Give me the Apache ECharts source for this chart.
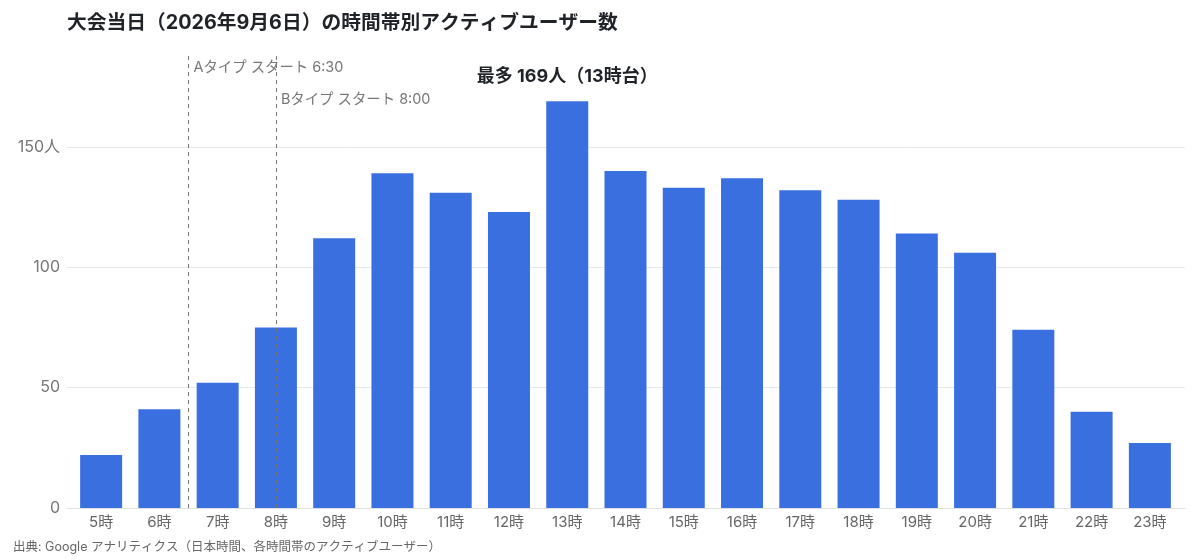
<!DOCTYPE html>
<html><head><meta charset="utf-8">
<script src="https://cdn.jsdelivr.net/npm/echarts@6/dist/echarts.min.js"></script>
<style>html,body{margin:0;padding:0;background:#fff}#c{width:1200px;height:560px}</style>
</head><body><div id="c"></div>
<script>
const categories = ['5時','6時','7時','8時','9時','10時','11時','12時','13時','14時','15時','16時','17時','18時','19時','20時','21時','22時','23時'];
const users = [22,41,52,75,112,139,131,123,169,140,133,137,132,128,114,106,74,40,27];
const yTicks = [0,50,100,150];
const startLines = [
  {hour: 6.5, text: 'Aタイプ スタート 6:30', labelY: 183},
  {hour: 8, text: 'Bタイプ スタート 8:00', labelY: 169.5}
];
const peakText = '最多 169人（13時台）';
const peakHour = 13;
const peakLabelY = 179;
const hourMin = 4.5, hourMax = 23.5;
const yMax = 189;

const font = 'Inter, "Noto Sans CJK JP", sans-serif';
const gridLineColors = ['#e6e8ec','#e6e8ec','#e6e8ec','#e6e8ec','rgba(0,0,0,0)'];
const chart = echarts.init(document.getElementById('c'));
chart.setOption({
  animation: false,
  textStyle: {fontFamily: font},
  title: {
    text: '大会当日（2026年9月6日）の時間帯別アクティブユーザー数',
    left: 67, top: 13, padding: 0,
    textStyle: {fontSize: 19.75, fontWeight: 'bold', color: '#1f2328', fontFamily: font}
  },
  graphic: [{
    type: 'text', left: 13, top: 541,
    style: {text: '出典: Google アナリティクス（日本時間、各時間帯のアクティブユーザー）', fontSize: 12.5, fill: '#666', fontFamily: font}
  }],
  grid: [
    {left: 72, right: 21, top: 53, bottom: 52},
    {left: 67, right: 15, top: 53, bottom: 52}
  ],
  xAxis: [{
    type: 'category', data: categories, gridIndex: 0,
    axisLine: {show: false},
    axisTick: {show: false},
    axisLabel: {color: '#666', fontSize: 15, margin: 7, fontFamily: font}
  }, {
    type: 'value', min: hourMin, max: hourMax, show: false, gridIndex: 0
  }, {
    type: 'value', min: 0, max: 1, gridIndex: 1,
    axisLine: {show: true, lineStyle: {color: '#dfe1e6'}},
    axisTick: {show: false}, axisLabel: {show: false}, splitLine: {show: false}
  }],
  yAxis: [{
    type: 'value', min: 0, max: yMax, interval: 50, gridIndex: 0,
    axisLine: {show: false}, axisTick: {show: false},
    axisLabel: {
      color: '#777', fontSize: 16, margin: 12, fontFamily: font,
      formatter: v => yTicks.includes(v) ? (v === 150 ? '150人' : String(v)) : ''
    },
    splitLine: {show: false}
  }, {
    type: 'value', min: 0, max: yMax, interval: 50, gridIndex: 1,
    axisLine: {show: false}, axisTick: {show: false}, axisLabel: {show: false},
    splitLine: {lineStyle: {color: gridLineColors, width: 1}}
  }],
  series: [{
    type: 'bar', data: users, barWidth: 42, xAxisIndex: 0, yAxisIndex: 0, z: 3,
    itemStyle: {color: '#3a6fe0'}
  }, {
    type: 'scatter', xAxisIndex: 1, yAxisIndex: 0, symbolSize: 0, silent: true, z: 4,
    itemStyle: {opacity: 1},
    data: [[peakHour, peakLabelY]],
    label: {show: true, position: 'inside', formatter: peakText, color: '#1f2328', fontSize: 18, fontWeight: 'bold', fontFamily: font},
    markLine: {
      silent: true, symbol: 'none',
      lineStyle: {type: [4, 4], color: '#777', width: 1},
      label: {show: false},
      data: startLines.map(l => [{coord: [l.hour, 0]}, {coord: [l.hour, yMax]}])
    },
    markPoint: {
      silent: true, symbol: 'circle', symbolSize: 0,
      data: startLines.map(l => ({
        coord: [l.hour, l.labelY],
        label: {show: true, position: 'right', distance: 5, formatter: l.text, color: '#777', fontSize: 14.4, fontFamily: font}
      }))
    }
  }]
});
</script></body></html>
